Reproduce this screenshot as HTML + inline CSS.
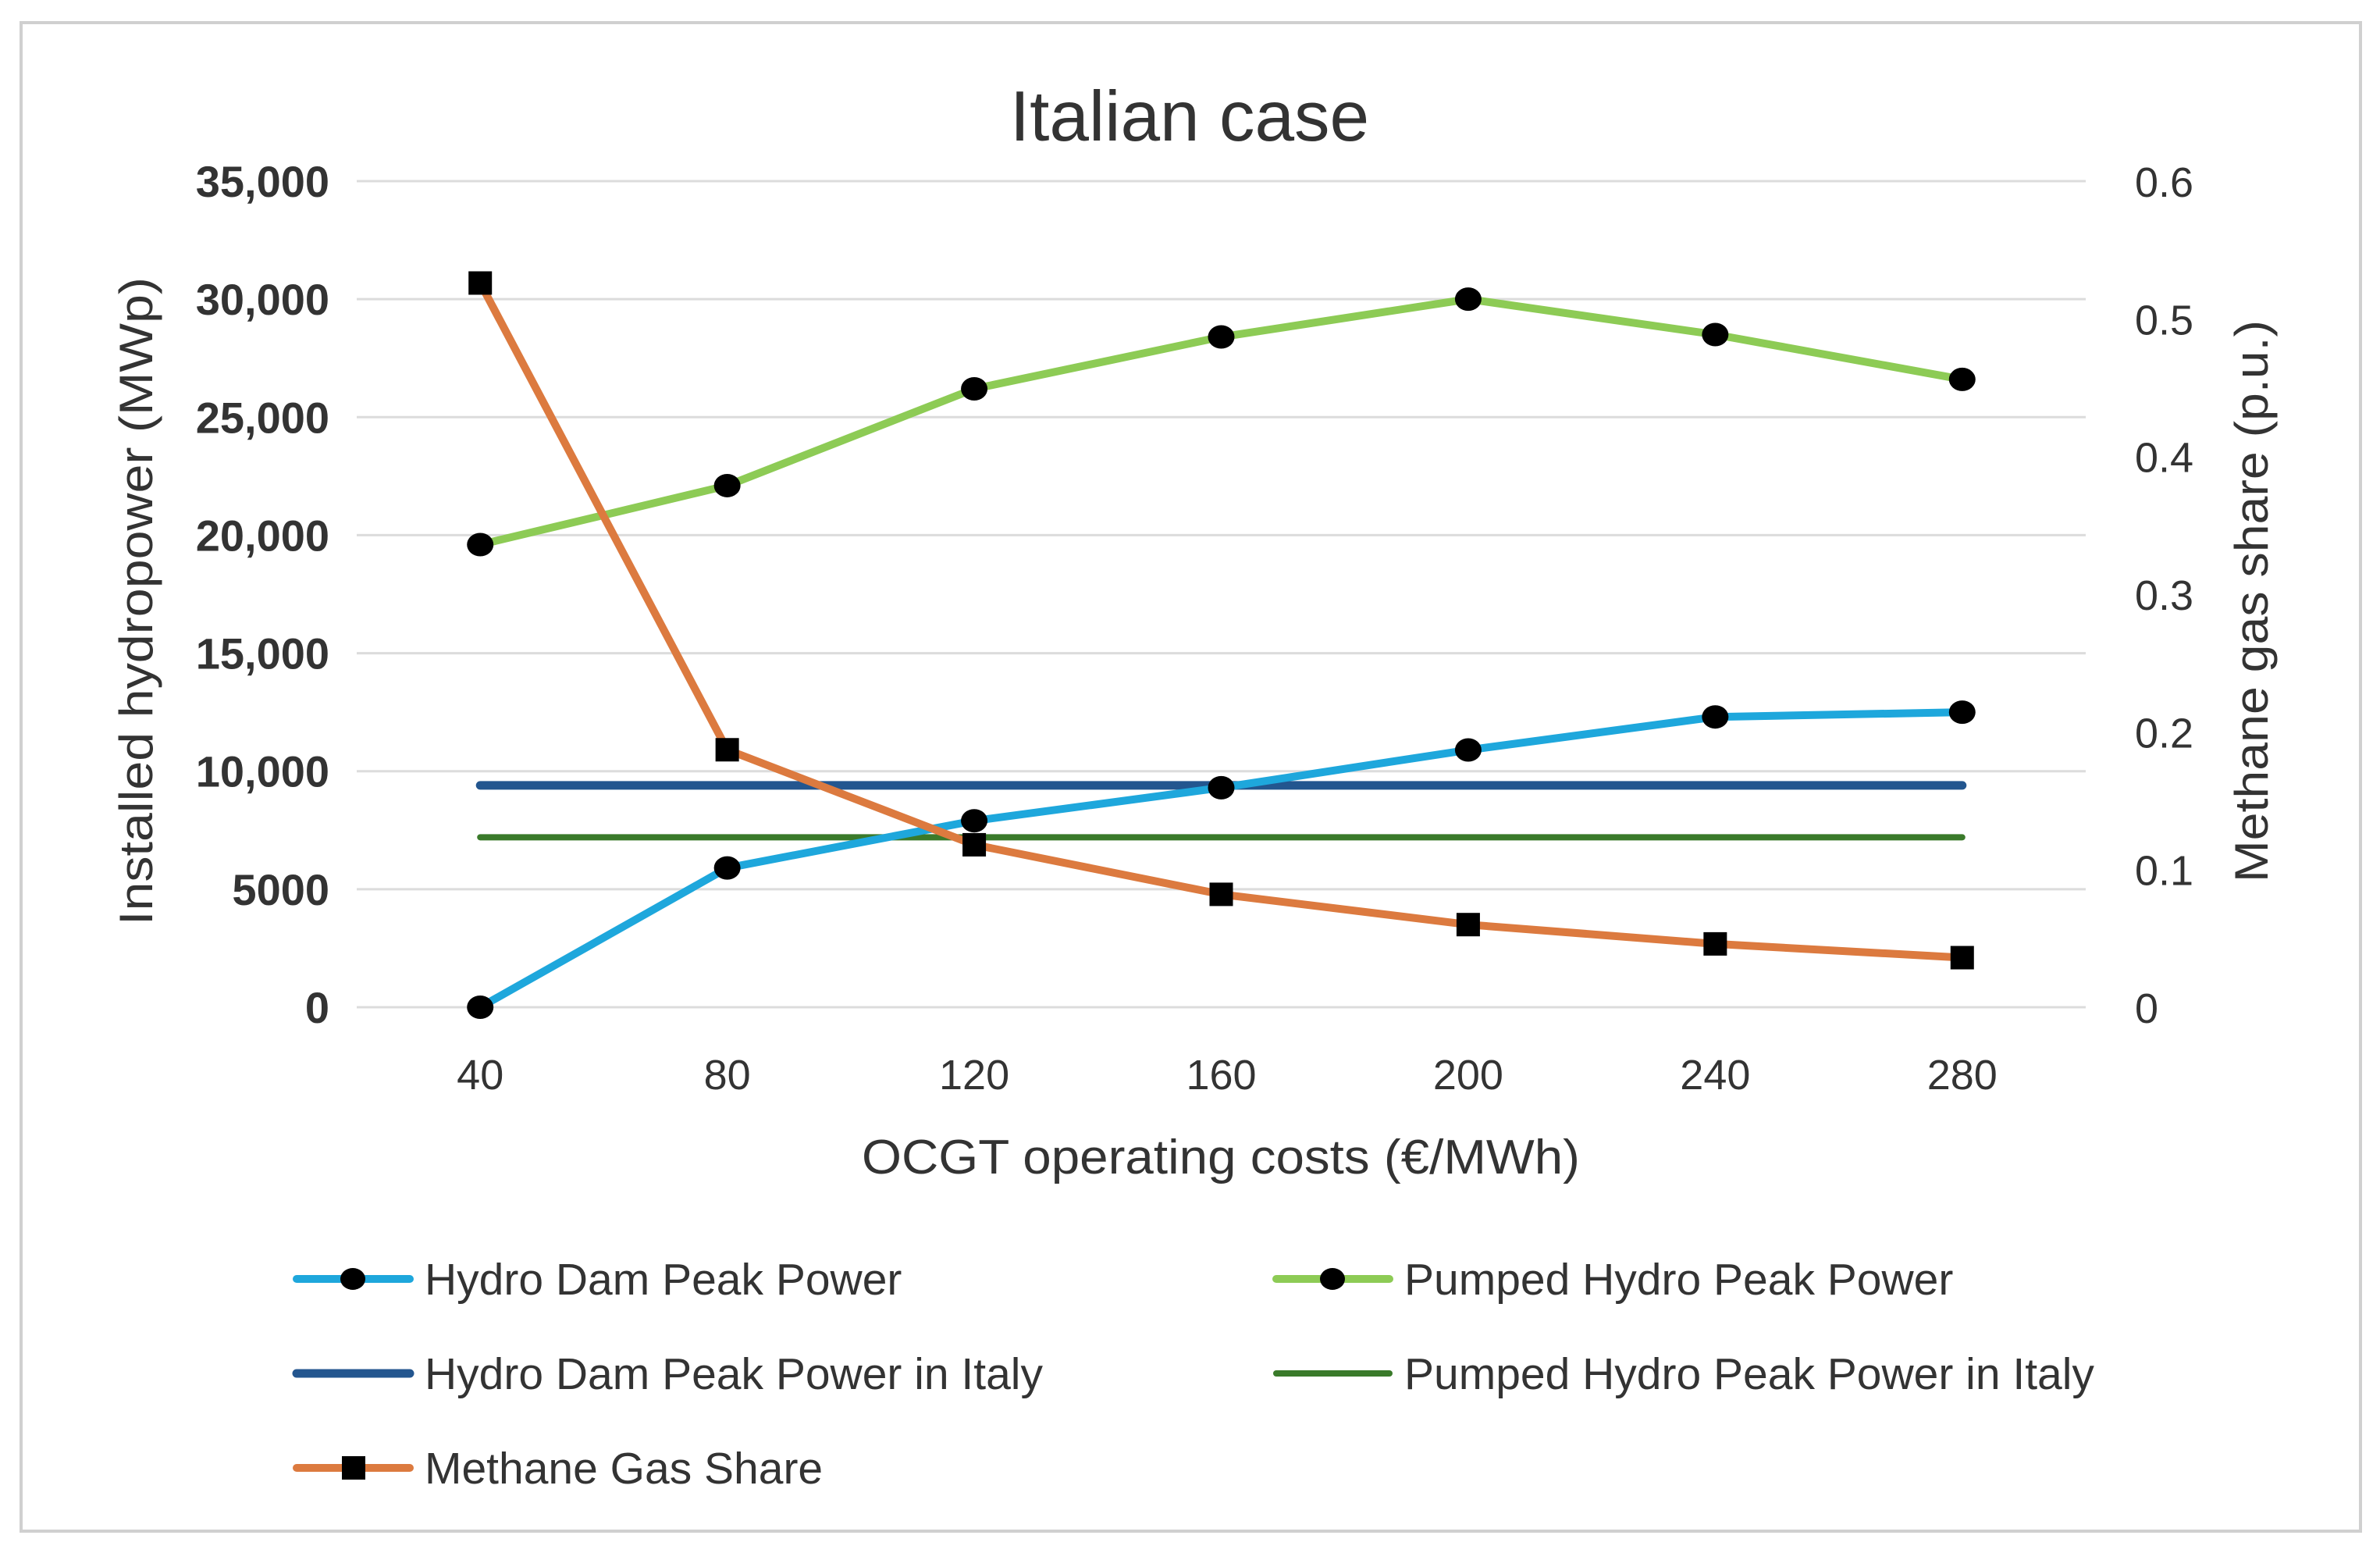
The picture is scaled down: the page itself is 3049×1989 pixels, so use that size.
<!DOCTYPE html>
<html><head><meta charset="utf-8"><style>
html,body{margin:0;padding:0;background:#fff;}
svg{display:block;}
text{font-family:"Liberation Sans",sans-serif;fill:#333;}
</style></head><body>
<svg id="chart" width="3049" height="1989" viewBox="0 0 3049 1989">
<rect x="27" y="29" width="2997" height="1932" fill="#fff" stroke="#d0d0d0" stroke-width="4"/>
<text x="1524" y="180" text-anchor="middle" font-size="91" fill="#222">Italian case</text>
<g id="grid"></g>
<g id="series"></g>
<text transform="translate(195,770) rotate(-90)" text-anchor="middle" font-size="60" fill="#222" textLength="830" lengthAdjust="spacingAndGlyphs">Installed hydropower (MWp)</text>
<text transform="translate(2905,770) rotate(-90)" text-anchor="middle" font-size="60" fill="#222" textLength="720" lengthAdjust="spacingAndGlyphs">Methane gas share (p.u.)</text>
<text x="1564" y="1503" text-anchor="middle" font-size="62" fill="#222" textLength="920" lengthAdjust="spacingAndGlyphs">OCGT operating costs (€/MWh)</text>
<g id="legend"></g>
</svg>
<script>
const categories=[40,80,120,160,200,240,280];
const hydroDam=[0,5900,7900,9300,10900,12300,12500];
const pumpedHydro=[19600,22100,26200,28400,30000,28500,26600];
const hydroDamItaly=[9400,9400,9400,9400,9400,9400,9400];
const pumpedItaly=[7200,7200,7200,7200,7200,7200,7200];
const methaneShare=[0.526,0.187,0.118,0.082,0.060,0.046,0.036];
const leftTicks=[0,5000,10000,15000,20000,25000,30000,35000];
const leftTickLabels=["0","5000","10,000","15,000","20,000","25,000","30,000","35,000"];
const rightTicks=[0,0.1,0.2,0.3,0.4,0.5,0.6];
const rightTickLabels=["0","0.1","0.2","0.3","0.4","0.5","0.6"];

const NS="http://www.w3.org/2000/svg";
const L=457,R=2672,T=232,B=1290;
const step=(R-L)/categories.length;
const x=i=>L+step*(i+0.5);
const y=v=>B-(v/35000)*(B-T);
const y2=v=>B-(v/0.6)*(B-T);
function mk(tag,attrs,parent){const e=document.createElementNS(NS,tag);for(const k in attrs)e.setAttribute(k,attrs[k]);parent.appendChild(e);return e;}
const grid=document.getElementById('grid');
leftTicks.forEach((t,i)=>{
  const ln=mk('line',{x1:L,x2:R,y1:y(t),y2:y(t),stroke:'#dcdcdc','stroke-width':3},grid);
  
  
  const tx=mk('text',{x:422,y:y(t)+20,'text-anchor':'end','font-size':56,'font-family':'Liberation Serif, serif','font-weight':'bold',fill:'#333'},grid);
  tx.textContent=leftTickLabels[i];
  
  
});
rightTicks.forEach((t,i)=>{
  const tx=mk('text',{x:2735,y:y2(t)+20,'text-anchor':'start','font-size':54,fill:'#333'},grid);
  tx.textContent=rightTickLabels[i];
  
  
});
categories.forEach((c,i)=>{
  const tx=mk('text',{x:x(i),y:1395,'text-anchor':'middle','font-size':54,fill:'#333'},grid);
  tx.textContent=c;
  
  
});
const sg=document.getElementById('series');
function line(vals,fy,color,w,name){
  const p=mk('polyline',{points:vals.map((v,i)=>x(i)+','+fy(v)).join(' '),fill:'none',stroke:color,'stroke-width':w,'stroke-linecap':'round','stroke-linejoin':'round'},sg);
  
  
}
function dots(vals,fy,name){vals.forEach((v,i)=>{
  const c=mk('ellipse',{cx:x(i),cy:fy(v),rx:17,ry:15,fill:'#000'},sg);
  
  
});}
function squares(vals,fy,name){vals.forEach((v,i)=>{
  const r=mk('rect',{x:x(i)-15,y:fy(v)-15,width:30,height:30,fill:'#000'},sg);
  
  
});}
line(hydroDamItaly,y,'#23568f',11,'hydro-dam-italy-line');
line(pumpedItaly,y,'#3a7a2a',8,'pumped-hydro-italy-line');
line(pumpedHydro,y,'#8dcb55',10,'pumped-hydro-line');
line(hydroDam,y,'#1ea7dc',10,'hydro-dam-line');
line(methaneShare,y2,'#dc7a3f',10,'methane-share-line');
dots(pumpedHydro,y,'pumped-hydro-point');
dots(hydroDam,y,'hydro-dam-point');
squares(methaneShare,y2,'methane-share-point');

const lg=document.getElementById('legend');
const entries=[
 {t:'Hydro Dam Peak Power',c:'#1ea7dc',w:10,m:'c',x:380,y:1638},
 {t:'Pumped Hydro Peak Power',c:'#8dcb55',w:10,m:'c',x:1635,y:1638},
 {t:'Hydro Dam Peak Power in Italy',c:'#23568f',w:11,m:'',x:380,y:1759},
 {t:'Pumped Hydro Peak Power in Italy',c:'#3a7a2a',w:8,m:'',x:1635,y:1759},
 {t:'Methane Gas Share',c:'#dc7a3f',w:10,m:'s',x:380,y:1880}
];
entries.forEach(e=>{
  const g=mk('g',{},lg);
  
  
  mk('line',{x1:e.x,x2:e.x+145,y1:e.y,y2:e.y,stroke:e.c,'stroke-width':e.w,'stroke-linecap':'round'},g);
  if(e.m==='c')mk('ellipse',{cx:e.x+72,cy:e.y,rx:16,ry:14,fill:'#000'},g);
  if(e.m==='s')mk('rect',{x:e.x+58,y:e.y-15,width:30,height:30,fill:'#000'},g);
  const t=mk('text',{x:e.x+164,y:e.y+20,'font-size':57,fill:'#333'},g);
  t.textContent=e.t;
});
</script>
</body></html>
